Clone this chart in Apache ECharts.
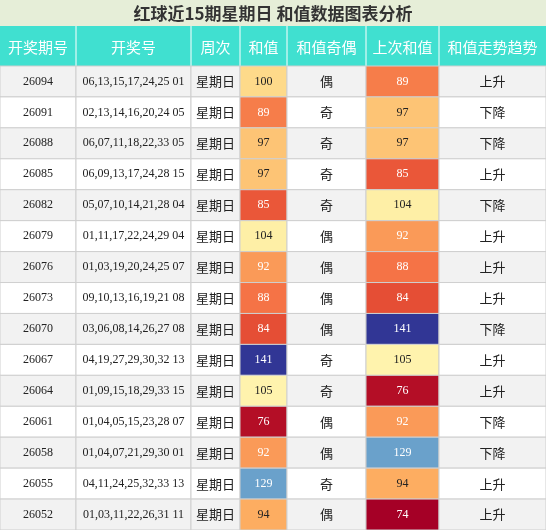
<!DOCTYPE html>
<html><head><meta charset="utf-8">
<script src="https://cdn.jsdelivr.net/npm/echarts@6/dist/echarts.min.js"></script>
<style>html,body{margin:0;padding:0;background:#fff}#c{width:546px;height:530px}</style>
</head><body><div id="c"></div>
<script>
const issues=['26094','26091','26088','26085','26082','26079','26076','26073','26070','26067','26064','26061','26058','26055','26052'];
const numbers=['06,13,15,17,24,25 01','02,13,14,16,20,24 05','06,07,11,18,22,33 05','06,09,13,17,24,28 15','05,07,10,14,21,28 04','01,11,17,22,24,29 04','01,03,19,20,24,25 07','09,10,13,16,19,21 08','03,06,08,14,26,27 08','04,19,27,29,30,32 13','01,09,15,18,29,33 15','01,04,05,15,23,28 07','01,04,07,21,29,30 01','04,11,24,25,32,33 13','01,03,11,22,26,31 11'];
const weekdays=Array(15).fill('星期日');
const sums=[100,89,97,97,85,104,92,88,84,141,105,76,92,129,94];
const parity=['偶','奇','奇','奇','奇','偶','偶','偶','偶','奇','奇','偶','偶','奇','偶'];
const prevSums=[89,97,97,85,104,92,88,84,141,105,76,92,129,94,74];
const trends=['上升','下降','下降','上升','下降','上升','上升','上升','下降','上升','上升','下降','下降','上升','上升'];
const headers=['开奖期号','开奖号','周次','和值','和值奇偶','上次和值','和值走势趋势'];
const title='红球近15期星期日 和值数据图表分析';

const bounds=[0,76,191,240,287,366,439,546];
const scale=['#a50026','#d73027','#f46d43','#fdae61','#fee090','#ffffbf','#e0f3f8','#abd9e9','#74add1','#4575b4','#313695'];
const vmin=74,vmax=141;
function hex(h){return [1,3,5].map(i=>parseInt(h.substr(i,2),16));}
function colorFor(v){
  let t=(v-vmin)/(vmax-vmin)*(scale.length-1);
  let i=Math.min(Math.floor(t),scale.length-2),f=t-i;
  const a=hex(scale[i]),b=hex(scale[i+1]);
  const c=a.map((x,k)=>Math.round(x+(b[k]-x)*f));
  return 'rgb('+c.join(',')+')';
}
function textFor(v){
  const m=colorFor(v).match(/\d+/g).map(Number);
  const l=0.299*m[0]+0.587*m[1]+0.114*m[2];
  return l<185?'#fff':'#222';
}
const rows=issues.map((d,i)=>[i,d,numbers[i],weekdays[i],sums[i],parity[i],prevSums[i],trends[i]]);
const chart=echarts.init(document.getElementById('c'));
const gfx=[{type:'rect',shape:{x:0,y:0,width:546,height:26},style:{fill:'#e6eed8'}},
 {type:'text',x:273,y:14,style:{text:title,fill:'#333',font:'bold 17px "Noto Sans CJK SC"',align:'center',verticalAlign:'middle'}},
 {type:'rect',shape:{x:0,y:26,width:546,height:40},style:{fill:'#40e0d0'}}];
headers.forEach((h,j)=>{
  gfx.push({type:'text',x:(bounds[j]+bounds[j+1])/2,y:47,style:{text:h,fill:'#fff',font:'15px "Noto Sans CJK SC"',align:'center',verticalAlign:'middle'}});
  if(j>0)gfx.push({type:'line',shape:{x1:bounds[j],y1:26,x2:bounds[j],y2:66},style:{stroke:'#fff',lineWidth:1}});
});
chart.setOption({
  animation:false,
  grid:{left:0,right:0,top:66,bottom:0},
  xAxis:{type:'value',min:0,max:546,show:false},
  yAxis:{type:'category',data:issues,inverse:true,show:false},
  graphic:gfx,
  series:[{type:'custom',data:rows,renderItem:function(params,api){
    const i=api.value(0);const r=rows[i];
    const top=api.coord([0,i])[1]-api.size([0,1])[1]/2;
    const h=api.size([0,1])[1];
    const children=[];
    for(let j=0;j<7;j++){
      const x0=api.coord([bounds[j],i])[0],x1=api.coord([bounds[j+1],i])[0];
      let fill=i%2===0?'#f2f2f2':'#ffffff',tc='#222';
      const val=r[j+1];
      if(j===3||j===5){fill=colorFor(val);tc=textFor(val);}
      children.push({type:'rect',shape:{x:x0,y:top,width:x1-x0,height:h},style:{fill:fill,stroke:'#cfcfcf',lineWidth:1}});
      const cjk=(j===3-0&&false);
      children.push({type:'text',x:(x0+x1)/2,y:top+h/2,style:{text:String(val),fill:tc,font:(typeof val==='string'&&/[\u4e00-\u9fff]/.test(val))?'13px "Noto Sans CJK SC"':'12px "Liberation Serif"',align:'center',verticalAlign:'middle'}});
    }
    return {type:'group',children:children};
  }}]
});
</script></body></html>
